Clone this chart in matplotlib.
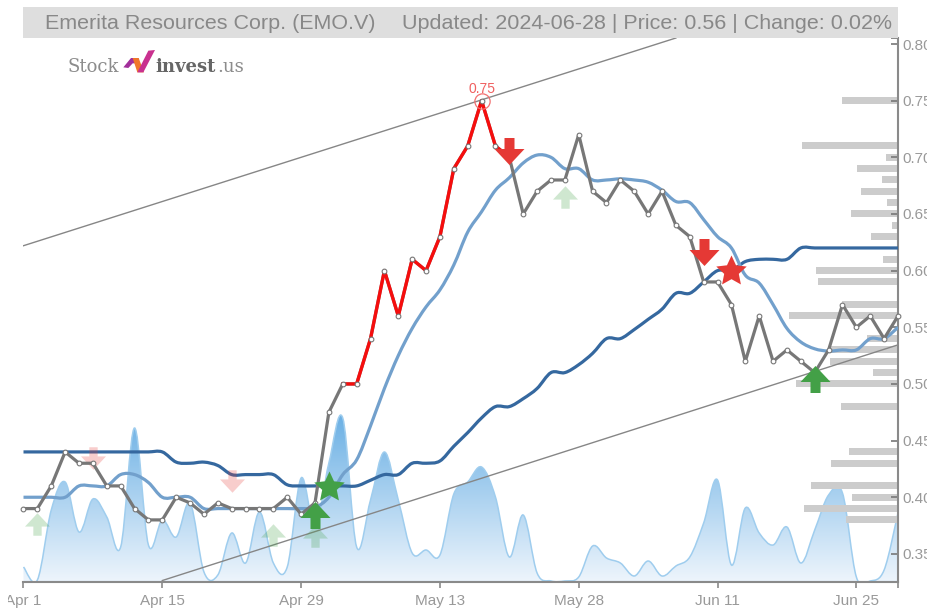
import numpy as np
import matplotlib
matplotlib.use("Agg")
import matplotlib.pyplot as plt
from matplotlib.path import Path
from matplotlib.patches import PathPatch, Rectangle, Polygon
from matplotlib.transforms import Bbox

plt.rcParams['font.family'] = ['Liberation Sans', 'DejaVu Sans']

# ---------- data ----------
close = [.39,.39,.41,.44,.43,.43,.41,.41,.39,.38,.38,.40,.395,.385,.395,.39,.39,.39,.39,.40,.385,.395,
         .475,.50,.50,.54,.60,.56,.61,.60,.63,.69,.71,.75,.71,.70,.65,.67,.68,.68,.72,.67,.66,.68,.67,.65,
         .67,.64,.63,.59,.59,.57,.52,.56,.52,.53,.52,.51,.53,.57,.55,.56,.54,.56]
ma_long = [.44]*11 + [.431,.43,.431,.428,.42,.42,.42,.42,.411,.41,.41,.41,.41,.41,.415,.42,.42,.43,.43,.432,
           .445,.457,.47,.48,.48,.487,.496,.51,.51,.517,.527,.54,.54,.548,.557,.566,.58,.58,.59,.60,.60,.608,.61,.61,.61,
           .62,.62,.62,.62,.62,.62,.62,.62]
ma_short = [.40,.40,.40,.40,.41,.41,.41,.42,.42,.413,.40,.40,.40,.39,.39,.39,.39,.39,.39,.39,.39,.391,.40,.42,.433,
            .463,.496,.525,.549,.568,.583,.605,.634,.652,.671,.682,.695,.702,.70,.69,.69,.68,.68,.681,.68,.678,
            .671,.661,.66,.645,.63,.62,.596,.589,.57,.549,.537,.531,.529,.53,.53,.54,.54,.55]
volume = [15,2,72,100,50,83,65,35,154,37,62,45,79,10,7,49,19,70,19,15,104,55,119,164,35,82,130,82,29,32,27,88,
          100,115,85,25,67,9,1,1,5,36,24,19,6,21,6,16,25,59,102,17,74,49,37,55,19,52,87,89,5,1,12,69]
profile_price = [.75,.71,.70,.69,.68,.67,.66,.65,.64,.63,.61,.60,.59,.57,.56,.54,.53,.52,.51,.50,.48,.44,.43,.41,.40,.39,.38]
profile_size  = [56,96,12,41,16,37,11,47,6,27,15,82,80,56,109,31,70,68,25,102,57,49,67,87,46,94,52]
x_tick_idx = [0,10,20,30,40,50,60]
x_tick_labels = ['Apr 1','Apr 15','Apr 29','May 13','May 28','Jun 11','Jun 25']
y_ticks = [.35,.40,.45,.50,.55,.60,.65,.70,.75,.80]
upper_trend_x, upper_trend_y = [0,47], [.622,.8053]
lower_trend_x, lower_trend_y = [10,63], [.3265,.5345]
red_from, red_to = 23, 35
peak_idx, peak_val = 33, .75
strong_up = [(21,.384),(57,.504)]
strong_down = [(35,.706),(49,.616)]
strong_star_green = [(22,.409)]
strong_star_red = [(51,.60)]
weak_up = [(1,.376),(18,.367),(21,.366),(39,.665)]
weak_down = [(5,.435),(15,.414)]

W, H = 928, 608
fig = plt.figure(figsize=(W/100, H/100), dpi=100, facecolor='white')
rect = [23.5/W, 1-582/H, (898-23.5)/W, (582-38)/H]
xlim = (0, 63)
ylim = (.3252, .8053)


def smooth(xs, ys):
    xs = np.asarray(xs, float); ys = np.asarray(ys, float)
    verts = [(xs[0], ys[0])]
    codes = [Path.MOVETO]
    n = len(xs)
    t = 0.17
    for i in range(n-1):
        a = max(i-1, 0); b = min(i+2, n-1)
        c1 = (xs[i]+(xs[i+1]-xs[a])*t, ys[i]+(ys[i+1]-ys[a])*t)
        c2 = (xs[i+1]-(xs[b]-xs[i])*t, ys[i+1]-(ys[b]-ys[i])*t)
        verts += [c1, c2, (xs[i+1], ys[i+1])]
        codes += [Path.CURVE4]*3
    return verts, codes


idx = np.arange(len(close))

# ---------- volume area ----------
ax_v = fig.add_axes(rect)
ax_v.set_xlim(xlim); ax_v.set_ylim(0, 544); ax_v.axis('off')
v, c = smooth(idx, volume)
area = Path([(0, 0)]+v+[(63, 0), (0, 0)], [Path.MOVETO, Path.LINETO]+c[1:]+[Path.LINETO, Path.CLOSEPOLY])
top = np.array(matplotlib.colors.to_rgb('#69afe4'))
bot = np.array(matplotlib.colors.to_rgb('#eef5fc'))
grad = np.linspace(0, 1, 256)[:, None, None]*(bot-top)+top
im = ax_v.imshow(grad, extent=(0, 63, 0, 170), origin='upper', aspect='auto', zorder=1)
patch = PathPatch(area, transform=ax_v.transData, facecolor='none', edgecolor='none')
ax_v.add_patch(patch)
im.set_clip_path(patch)
ax_v.set_xlim(xlim); ax_v.set_ylim(0, 544)
ax_v.add_patch(PathPatch(Path(v, c), facecolor='none', edgecolor='#9fcdee', lw=1.1, zorder=2))
ax_v.plot(xlim, [0.5, 0.5], color='#8fc3e8', lw=1.5, zorder=2)

# ---------- volume-by-price bars ----------
ax_p = fig.add_axes(rect)
ax_p.set_xlim(874.5, 0); ax_p.set_ylim(ylim); ax_p.axis('off')
ax_p.barh(profile_price, profile_size, height=.0062, color='#cccccc', lw=0)

# ---------- main ----------
ax = fig.add_axes(rect)
ax.patch.set_alpha(0)
ax.set_xlim(xlim); ax.set_ylim(ylim)

ax.plot(upper_trend_x, upper_trend_y, color='#868686', lw=1.0, zorder=2)
ax.plot(lower_trend_x, lower_trend_y, color='#868686', lw=1.0, zorder=2)

v, c = smooth(idx, ma_long)
ax.add_patch(PathPatch(Path(v, c), facecolor='none', edgecolor='#35689f', lw=2.3, zorder=3))
v, c = smooth(idx, ma_short)
ax.add_patch(PathPatch(Path(v, c), facecolor='none', edgecolor='#72a0cc', lw=2.3, zorder=3))

up_path = Path([(0, 13.5), (15, -2.5), (5, -2.5), (5, -13.5), (-5, -13.5), (-5, -2.5), (-15, -2.5), (0, 13.5)], closed=True)
down_path = Path([(0, -13.5), (15, 2.5), (5, 2.5), (5, 13.5), (-5, 13.5), (-5, 2.5), (-15, 2.5), (0, -13.5)], closed=True)
star_path = Path.unit_regular_star(5, innerCircle=0.48)
MS_STRONG = 30*0.72
MS_WEAK = 25*0.72
MS_STAR = 32*0.72


def scatter(points, marker, color, ms, alpha=1.0, z=6):
    xs, ys = zip(*points)
    ax.plot(xs, ys, ls='none', marker=marker, ms=ms, mfc=color, mec='none', alpha=alpha, zorder=z, clip_on=False)


scatter(weak_up, up_path, '#43a047', MS_WEAK, alpha=.25, z=4)
scatter(weak_down, down_path, '#e53935', MS_WEAK, alpha=.25, z=4)

ax.plot(idx, close, color='#777777', lw=2.3, zorder=5, solid_joinstyle='round')
ax.plot(idx[red_from:red_to+1], close[red_from:red_to+1], color='#f60d0d', lw=2.4, zorder=5)
ax.plot(idx, close, ls='none', marker='o', ms=3.4, mfc='white', mec='#777777', mew=.8, zorder=5.5, clip_on=False)

scatter(strong_up, up_path, '#43a047', MS_STRONG)
scatter(strong_down, down_path, '#e53935', MS_STRONG)
scatter(strong_star_green, star_path, '#43a047', MS_STAR)
scatter(strong_star_red, star_path, '#e53935', MS_STAR)

ax.plot([peak_idx], [peak_val], ls='none', marker='o', ms=11, mfc='none', mec='#f27070', mew=.9, zorder=6)
ax.annotate(f'{peak_val:.2f}', (peak_idx, peak_val), xytext=(0, 3.5), textcoords='offset points',
            ha='center', va='bottom', color='#f06060', fontsize=10, zorder=7)

# ---------- axes ----------
for s in ['top', 'left']:
    ax.spines[s].set_visible(False)
ax.spines['right'].set_color('#8a8a8a'); ax.spines['right'].set_linewidth(1.5)
ax.spines['bottom'].set_color('#8a8a8a'); ax.spines['bottom'].set_linewidth(1.5)
ax.yaxis.tick_right()
ax.set_yticks(y_ticks, [f'{t:.2f}' for t in y_ticks])
ax.set_yticks([ylim[1]], minor=True)
ax.set_xticks(x_tick_idx, x_tick_labels)
ax.set_xticks([63], minor=True)
ax.tick_params(axis='y', which='both', direction='in', length=5, width=1.2, color='#777777',
               labelsize=11, labelcolor='#999999', pad=3.5, labelright=True)
ax.tick_params(axis='x', which='both', direction='out', length=4.5, width=1.2, color='#8a8a8a',
               labelsize=11, labelcolor='#999999', pad=4)
for lab in ax.get_xticklabels():
    lab.set_clip_box(Bbox([[8, 0], [W, H]]))
    lab.set_clip_on(True)

# ---------- header ----------
fig.add_artist(Rectangle((23/W, 1-38/H), 875/W, 31/H, transform=fig.transFigure, facecolor='#dedede', edgecolor='none', zorder=10))
fig.text(45/W, 1-23.5/H, 'Emerita Resources Corp. (EMO.V)', color='#888888', fontsize=15.45, va='center', ha='left', zorder=11)
fig.text(892/W, 1-23.5/H, 'Updated: 2024-06-28 | Price: 0.56 | Change: 0.02%', color='#888888', fontsize=15.45, va='center', ha='right', zorder=11)

# ---------- logo ----------
fig.text(68/W, 1-72/H, 'Stock', family='DejaVu Serif', fontsize=13, color='#8c8c8c', zorder=11)
fig.text(155/W, 1-72/H, 'invest', family='DejaVu Serif', weight='bold', fontsize=13, color='#666666', zorder=11)
fig.text(217/W, 1-72/H, '.us', family='DejaVu Serif', fontsize=13, color='#8c8c8c', zorder=11)


def logo(pts, col):
    p = [((60+x/3)/W, 1-(44+y/3)/H) for x, y in pts]
    fig.add_artist(Polygon(p, closed=True, transform=fig.transFigure, facecolor=col, edgecolor='none', zorder=11))


logo([(190, 70), (213, 42), (236, 42), (232, 58), (218, 58), (205, 72)], '#a22f9b')
logo([(218, 42), (236, 42), (252, 85), (232, 85)], '#f0762a')
logo([(232, 85), (265, 20), (285, 18), (250, 85)], '#c9318f')

fig.savefig('out.png', dpi=100)
